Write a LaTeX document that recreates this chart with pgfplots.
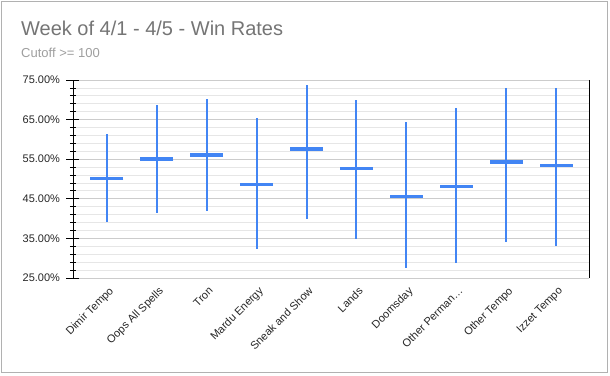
\documentclass[border=0pt]{standalone}
\usepackage{pgfplots}
\pgfplotsset{compat=1.18}
\usepackage{pgfplotstable}
\usepackage{fontspec}
\setmainfont{Liberation Sans}
\definecolor{gblue}{HTML}{4285F4}
\definecolor{titlegray}{HTML}{757575}
\definecolor{subgray}{HTML}{9E9E9E}
\definecolor{majgrid}{HTML}{CCCCCC}
\definecolor{mingrid}{HTML}{E6E6E6}
\pgfplotstableread{
x mid low high
0 50.2 39.1 61.4
1 55.1 41.5 68.6
2 56.1 41.8 70.1
3 48.7 32.3 65.3
4 57.5 39.8 73.7
5 52.7 34.8 69.9
6 45.5 27.6 64.3
7 48.2 28.8 68.0
8 54.2 34.2 73.1
9 53.5 33.2 72.9
}\alldata
\pgfplotstableread{
x mid
1 55.1
2 56.1
4 57.5
8 54.2
}\thickdata
\pgfplotstableread{
x mid
0 50.2
3 48.7
5 52.7
6 45.5
7 48.2
9 53.5
}\thindata
\begin{document}
\begin{tikzpicture}
\begin{axis}[
  scale only axis, width=516pt, height=198pt,
  xmin=-0.68, xmax=9.66, ymin=25, ymax=75,
  separate axis lines,
  x axis line style={draw=none},
  y axis line style={black, line width=0.8pt},
  ytick pos=left,
  ytick={25,35,45,55,65,75},
  yticklabels={25.00\%,35.00\%,45.00\%,55.00\%,65.00\%,75.00\%},
  minor y tick num=4,
  tick align=center,
  major tick length=13pt, minor tick length=6pt,
  ytick style={black, line width=0.8pt},
  minor y tick style={black, line width=0.8pt},
  xtick style={draw=none},
  ymajorgrids, yminorgrids,
  major grid style={majgrid, line width=0.8pt},
  minor grid style={mingrid, line width=0.8pt},
  xtick={0,...,9},
  xticklabels={Dimir Tempo,Oops All Spells,Tron,Mardu Energy,Sneak and Show,Lands,Doomsday,Other Perman…,Other Tempo,Izzet Tempo},
  x tick label style={rotate=45, anchor=north east, font=\fontsize{11}{13}\selectfont, text=black!85, xshift=1pt, yshift=-1pt, inner sep=1pt},
  y tick label style={font=\fontsize{11}{13}\selectfont, text=black!85, xshift=-3pt},
  clip=false,
]
\coordinate (O) at (rel axis cs:0,0);
\addplot[draw=none, mark=none, forget plot,
  error bars/.cd, y dir=both, y explicit, error mark=none,
  error bar style={gblue, line width=2pt}]
  table[x=x, y=mid, y error plus expr=\thisrow{high}-\thisrow{mid}, y error minus expr=\thisrow{mid}-\thisrow{low}] {\alldata};
\addplot[only marks, mark=-, mark size=16.5pt, mark options={gblue, line width=4pt}] table[x=x, y=mid] {\thickdata};
\addplot[only marks, mark=-, mark size=16.5pt, mark options={gblue, line width=3pt}] table[x=x, y=mid] {\thindata};
\end{axis}
\begin{scope}[shift={(O)}, xshift=-73pt, yshift=-97pt, x=1pt, y=1pt]
\path[use as bounding box] (0,0) rectangle (610,375);
\draw[subgray!80, line width=1pt] (2,3) rectangle (607,373);
\node[anchor=base west, text=titlegray, font=\fontsize{20}{24}\selectfont, inner sep=0] at (21,339) {Week of 4/1 - 4/5 - Win Rates};
\node[anchor=base west, text=subgray, font=\fontsize{13}{15}\selectfont, inner sep=0] at (21,317) {Cutoff >= 100};
\end{scope}
\end{tikzpicture}
\end{document}
